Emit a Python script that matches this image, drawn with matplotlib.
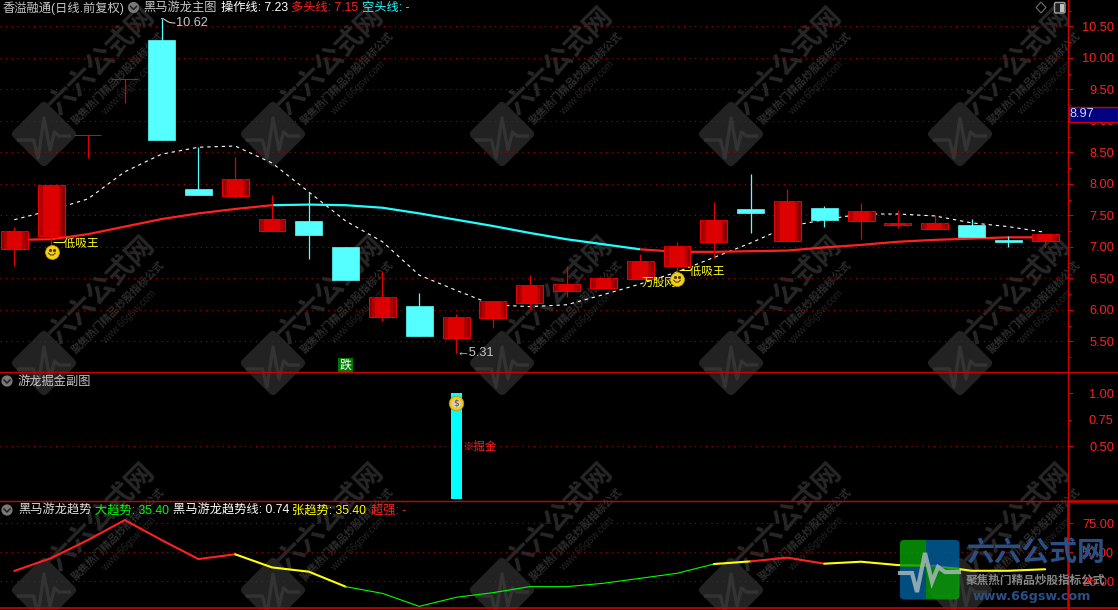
import numpy as np
import matplotlib
matplotlib.use('Agg')
import matplotlib.pyplot as plt
from matplotlib.patches import FancyBboxPatch, Rectangle, Circle, Polygon
from matplotlib.transforms import Affine2D

plt.rcParams['font.family'] = ['Liberation Sans', 'Noto Sans CJK SC', 'DejaVu Sans']

# candles
opens = [6.96, 7.17, 8.77, 9.66, 10.28, 7.92, 7.81, 7.44, 7.41, 7.00, 5.89, 6.06, 5.55, 5.87, 6.11,
         6.30, 6.35, 6.49, 6.70, 7.07, 7.60, 7.09, 7.62, 7.41, 7.35, 7.28, 7.35, 7.11, 7.09]
closes = [7.25, 7.98, 8.77, 9.66, 8.70, 7.82, 8.08, 7.25, 7.19, 6.47, 6.20, 5.58, 5.89, 6.14, 6.39,
          6.41, 6.50, 6.77, 7.01, 7.43, 7.54, 7.73, 7.43, 7.57, 7.38, 7.38, 7.16, 7.08, 7.20]
highs = [7.31, 7.98, 8.77, 9.66, 10.62, 8.59, 8.43, 7.82, 7.87, 7.00, 6.62, 6.27, 5.93, 6.14, 6.55,
         6.70, 6.50, 6.89, 7.08, 7.71, 8.16, 7.92, 7.65, 7.70, 7.59, 7.50, 7.44, 7.17, 7.20]
lows = [6.70, 7.03, 8.41, 9.29, 8.70, 7.82, 7.775, 7.25, 6.81, 6.47, 5.82, 5.58, 5.31, 5.71, 6.01,
        6.20, 6.33, 6.49, 6.60, 6.82, 7.22, 7.09, 7.32, 7.12, 7.30, 7.28, 7.16, 7.00, 7.00]
candle_up = [1, 1, 1, 1, 0, 0, 1, 1, 0, 0, 1, 0, 1, 1, 1, 1, 1, 1, 1, 1, 0, 1, 0, 1, 1, 1, 0, 0, 1]

trend_line = [7.11, 7.12, 7.20, 7.32, 7.44, 7.53, 7.60, 7.66, 7.67, 7.66, 7.62, 7.53, 7.43, 7.33, 7.22,
              7.12, 7.04, 6.96, 6.92, 6.92, 6.93, 6.94, 6.99, 7.03, 7.08, 7.11, 7.13, 7.15, 7.15]
op_line = [7.43, 7.58, 7.76, 8.19, 8.47, 8.58, 8.60, 8.33, 7.87, 7.41, 7.08, 6.55, 6.31, 6.08, 6.05,
           6.08, 6.24, 6.41, 6.60, 6.83, 7.06, 7.32, 7.43, 7.52, 7.52, 7.49, 7.38, 7.32, 7.23]
momentum = [33.9, 45.0, 60.6, 77.8, 60.6, 44.2, 48.3, 37.0, 33.3, 20.4, 14.6, 3.4, 11.2, 15.2, 20.4,
            20.4, 23.3, 27.6, 31.9, 39.9, 42.2, 45.4, 40.2, 41.9, 39.0, 38.4, 34.1, 34.1, 35.4]

price_ticks = [5.5, 6.0, 6.5, 7.0, 7.5, 8.0, 8.5, 9.0, 9.5, 10.0, 10.5]
price_minor = [5.25, 5.75, 6.25, 6.75, 7.25, 7.75, 8.25, 8.75, 9.25, 9.75, 10.25, 10.75]
sub_ticks = [0.5, 1.0]
trend_ticks = [25, 50, 75]

header_main = ['香溢融通(日线.前复权)', '黑马游龙主图', '操作线: 7.23', '多头线: 7.15', '空头线: -']
header_sub = ['游龙掘金副图']
header_trend = ['黑马游龙趋势', '大趋势: 35.40', '黑马游龙趋势线: 0.74', '张趋势: 35.40', '超强: -']

W, H = 1118, 610
RED = '#d00000'
GRID = '#a80000'
CYAN = '#55ffff'
x = np.arange(len(opens))


def px_axes(left, top, right, bottom, **kw):
    return fig.add_axes([left / W, 1 - bottom / H, (right - left) / W, (bottom - top) / H], **kw)


fig = plt.figure(figsize=(W / 100, H / 100), dpi=100, facecolor='black')

# watermark layer sits under everything
bg = px_axes(0, 0, W, H, zorder=0)
bg.set_xlim(0, W)
bg.set_ylim(H, 0)
bg.axis('off')
pulse = np.array([[-34, 6], [-14, 6], [-8, 24], [0, -16], [8, 16], [14, -2], [20, 2], [34, 2]])
for cy in [134, 363, 590]:
    for k in range(5):
        cx = 44 + 229 * k
        rot = Affine2D().rotate_deg_around(cx, cy, 45) + bg.transData
        bg.add_patch(FancyBboxPatch((cx - 24, cy - 24), 48, 48, boxstyle='round,pad=0,rounding_size=5',
                                    fc='#222222', ec='none', lw=0, transform=rot))
        bg.plot(pulse[:, 0] * 0.75 + cx, pulse[:, 1] + cy, color='#333333', lw=2.4)
        bg.text(cx + 58, cy - 72, '六六公式网', color='#272727', fontsize=20, fontweight='bold', rotation=45,
                ha='center', va='center', rotation_mode='anchor')
        bg.text(cx + 74, cy - 56, '聚焦热门精品炒股指标公式', color='#2c2c2c', fontsize=7.6, fontweight='bold',
                rotation=45, ha='center', va='center', rotation_mode='anchor')
        bg.text(cx + 85, cy - 46, 'www.66gsw.com', color='#242424', fontsize=7, rotation=45,
                ha='center', va='center', rotation_mode='anchor')

xlim = (-0.388, 28.62)
ax = px_axes(0, 0, 1068, 372.3, zorder=2)
ax2 = px_axes(0, 372.3, 1068, 500.7, zorder=2)
ax3 = px_axes(0, 500.7, 1068, 608, zorder=2)

for a in (ax, ax2, ax3):
    a.patch.set_alpha(0)
    a.set_xlim(*xlim)
    a.set_xticks([])
    a.yaxis.tick_right()
    for s in ('left', 'bottom', 'top'):
        a.spines[s].set_visible(False)
    a.spines['right'].set_color(RED)
    a.spines['right'].set_linewidth(1.0)
    a.tick_params(axis='y', which='major', length=3.6, width=0.8, color=RED, labelcolor='#ff1f1f',
                  labelsize=9.2, pad=29.5)
    a.tick_params(axis='y', which='minor', length=1.8, width=0.8, color=RED, labelcolor='#ff1f1f',
                  labelsize=9.2, pad=31)
ax3.spines['right'].set_linewidth(1.8)

ax.set_ylim(5.008, 10.917)
ax.set_yticks(price_ticks)
ax.set_yticklabels(['%.2f' % v for v in price_ticks], ha='right')
ax.set_yticks(price_minor, minor=True)
for v in price_ticks:
    ax.axhline(v, color=GRID, lw=0.8, ls=(0, (1, 4)), zorder=1)

# moving lines run behind the candles
ax.plot(x, op_line, color='white', lw=0.8, ls=(0, (3, 3.5)), zorder=2)
ax.plot(x[:8], trend_line[:8], color='#ff2020', lw=1.6, zorder=2, solid_capstyle='butt')
ax.plot(x[7:18], trend_line[7:18], color='#20ffff', lw=1.6, zorder=2, solid_capstyle='butt')
ax.plot(x[17:], trend_line[17:], color='#ff2020', lw=1.6, zorder=2, solid_capstyle='butt')

for i in x:
    col = '#e00000' if candle_up[i] else CYAN
    ax.vlines(i, lows[i], highs[i], color=col, lw=0.9, zorder=3)
    low_b, high_b = sorted([opens[i], closes[i]])
    if candle_up[i]:
        ax.bar(i, high_b - low_b, 0.73, low_b, fc='#8f0000', ec='#f00000', lw=0.7, zorder=4)
        ax.bar(i, high_b - low_b, 0.58, low_b, fc='#b00000', lw=0, zorder=4)
        ax.bar(i, high_b - low_b, 0.42, low_b, fc='#dd0000', lw=0, zorder=4)
    else:
        ax.bar(i, high_b - low_b, 0.73, low_b, fc=CYAN, ec=CYAN, lw=0.5, zorder=4)

# high and low marks
ax.text(4.39, 10.55, '10.62', color='#c8c8c8', fontsize=9.2, va='center', zorder=6)
ax.plot([4, 4.05, 4.15, 4.22, 4.36], [10.62, 10.62, 10.58, 10.56, 10.55], color='#c8c8c8', lw=0.8, zorder=6)
ax.text(12.0, lows[12], '←5.31', color='#c8c8c8', fontsize=9.2, va='center', zorder=6)


def smile(a, i, p):
    a.scatter([i], [p], s=100, color='#f2cf1d', edgecolors='#c8a000', linewidths=0.5, zorder=7)
    a.scatter([i - 0.06, i + 0.06], [p + 0.03, p + 0.03], s=5, color='#4a3500', lw=0, zorder=8)
    a.plot([i - 0.09, i - 0.04, i + 0.04, i + 0.09], [p - 0.02, p - 0.05, p - 0.05, p - 0.02], color='#4a3500',
           lw=0.7, zorder=8)


smile(ax, 1.02, 6.92)
smile(ax, 18.0, 6.49)
ax.text(1.03, 7.05, '一低吸王', color='#ffff20', fontsize=8.4, va='center', zorder=8)
ax.text(18.05, 6.60, '一低吸王', color='#ffff20', fontsize=8.4, va='center', zorder=8)
ax.text(17.03, 6.42, '万股网', color='#ffff20', fontsize=8.4, va='center', zorder=6)
ax.text(9.0, 5.11, '跌', color='white', fontsize=8.6, ha='center', va='center', zorder=8,
        bbox=dict(boxstyle='square,pad=0.12', fc='#007800', ec='none'))

# sub panel
ax2.set_ylim(-0.016, 1.2)
ax2.set_yticks(sub_ticks)
ax2.set_yticklabels(['%.2f' % v for v in sub_ticks], ha='right')
ax2.set_yticks([0.75], minor=True)
ax2.set_yticklabels(['0.75'], minor=True, ha='right')
ax2.axhline(0.5, color=GRID, lw=0.8, ls=(0, (1, 4)), zorder=1)
ax2.bar([12], [1.0], 0.3, color='#00ffff', zorder=3)
ax2.text(12.17, 0.5, '※掘金', color='#ff1f1f', fontsize=8.2, va='center', zorder=6,
         bbox=dict(boxstyle='square,pad=0.03', fc='black', ec='none'))
ax2.scatter([12], [0.905], s=110, color='#f0c814', edgecolors='#b89000', linewidths=0.5, zorder=5)
ax2.scatter([12], [0.905], s=45, color='#d8d0c0', lw=0, zorder=6)
ax2.text(12, 0.905, '$', color='#705020', fontsize=6.5, ha='center', va='center', zorder=7, family='DejaVu Sans',
         parse_math=False)

# trend panel
ax3.set_ylim(2.0, 94.5)
ax3.set_yticks(trend_ticks)
ax3.set_yticklabels(['%.2f' % v for v in trend_ticks], ha='right')
for v in trend_ticks:
    ax3.axhline(v, color=GRID, lw=0.8, ls=(0, (1, 4)), zorder=1)
segments = [(0, 6, '#ff2020', 1.5), (6, 9, '#ffff00', 1.5), (9, 19, '#00ff00', 0.8), (19, 20, '#ffff00', 1.5),
            (20, 22, '#ff2020', 1.5), (22, 28, '#ffff00', 1.5)]
for a_i, b_i, col, lw in segments:
    ax3.plot(x[a_i:b_i + 1], momentum[a_i:b_i + 1], color=col, lw=lw, zorder=3, solid_capstyle='round')

# header text, chevrons and the corner logo on top
top = px_axes(0, 0, W, H, zorder=5)
top.set_xlim(0, W)
top.set_ylim(H, 0)
top.axis('off')
top.patch.set_alpha(0)

# panel separators run the full width
for yp, lw in [(372.3, 1.0), (500.7, 1.0), (608, 1.2)]:
    top.plot([0, W], [yp, yp], color=RED, lw=lw)
top.plot([1068, W], [501.3, 501.3], color=RED, lw=1.8)


def header(y, items):
    for xp, txt, col in items:
        top.text(xp, y, txt, color=col, fontsize=8.8, va='center', ha='left')


header(8, [(3, header_main[0], '#c8c8c8'), (143, header_main[1], '#c8c8c8'), (221, header_main[2], 'white'),
           (291, header_main[3], '#ff2020'), (362, header_main[4], '#20ffff')])
header(382, [(18, header_sub[0], '#c8c8c8')])
header(511, [(18, header_trend[0], '#e0e0e0'), (95, header_trend[1], '#00ff00'), (173, header_trend[2], 'white'),
             (292, header_trend[3], '#ffff00'), (371, header_trend[4], '#ff2020')])

for cx, cy in [(133.5, 7.5), (7, 381), (7, 510)]:
    top.add_patch(Circle((cx, cy), 5.6, fc='#787878', ec='none'))
    top.plot([cx - 3, cx, cx + 3], [cy - 1, cy + 2, cy - 1], color='#202020', lw=1.1)

top.add_patch(Polygon([(1041, 2), (1046, 7.5), (1041, 13), (1036, 7.5)], fc='none', ec='#707070', lw=0.8))
top.add_patch(FancyBboxPatch((1054.5, 2.5), 10.5, 10.5, boxstyle='round,pad=0,rounding_size=1.5', fc='#202020',
                             ec='#a0a0a0', lw=1.0))
top.add_patch(Rectangle((1060, 4), 3.5, 7.5, fc='#c0c0c0', ec='none'))

# last price box
top.add_patch(Rectangle((1068.5, 106.5), 49, 15.5, fc='#000080', ec=RED, lw=1.0))
top.text(1070, 114.3, '8.97', color='#c8d8f0', fontsize=9.2, va='center', ha='left')

# logo bottom right
al = 0.85
logo_clip = FancyBboxPatch((900, 540), 59.5, 59.5, boxstyle='round,pad=0,rounding_size=4', fc='none', ec='none',
                           transform=top.transData)
top.add_patch(logo_clip)
quads = [(900, 540, 26, 27, '#069a06'), (926, 540, 34, 27, '#005c96'), (900, 567, 26, 33, '#005c96'),
         (926, 567, 34, 33, '#069a06')]
for qx, qy, qw, qh, col in quads:
    r = Rectangle((qx, qy), qw, qh, fc=col, ec='none', alpha=al)
    top.add_patch(r)
    r.set_clip_path(logo_clip)
top.plot([900, 912, 917, 925, 932, 938, 945, 959], [573, 573, 592, 553, 582, 567, 572, 572], color='#a8b8b8',
         lw=3.0, alpha=0.85, solid_joinstyle='miter')
top.text(1035, 554, '六六公式网', color='#2b4f85', fontsize=20, fontweight='bold', ha='center', va='center')
top.text(1035, 581, '聚焦热门精品炒股指标公式', color='#888888', fontsize=8.4, fontweight='bold', ha='center', va='center')
top.text(1032, 596.5, 'www.66gsw.com', color='#2b4f85', fontsize=9.2, fontweight='bold', ha='center', va='center',
         family='DejaVu Sans')

fig.savefig('out.png', dpi=100, facecolor='black')
